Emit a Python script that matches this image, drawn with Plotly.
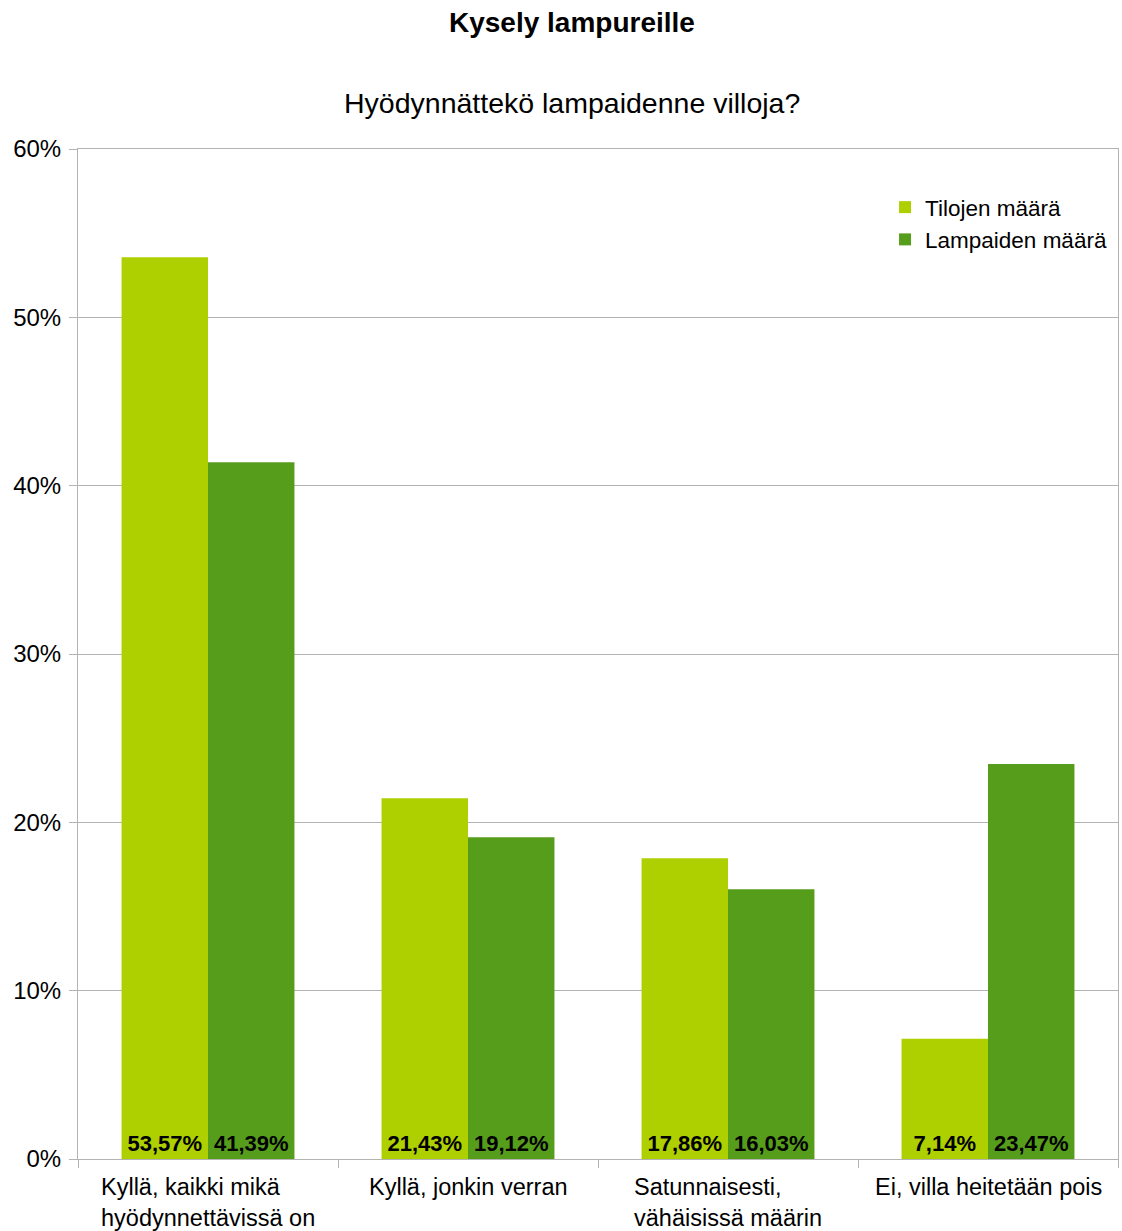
import plotly.graph_objects as go

categories = ["Kyllä, kaikki mikä<br>hyödynnettävissä on", "Kyllä, jonkin verran",
              "Satunnaisesti,<br>vähäisissä määrin", "Ei, villa heitetään pois"]
cat_keys = ["c1", "c2", "c3", "c4"]
tilojen = [0.5357, 0.2143, 0.1786, 0.0714]
lampaiden = [0.4139, 0.1912, 0.1603, 0.2347]
series_names = ["Tilojen määrä", "Lampaiden määrä"]
colors = ["#aecf00", "#579d1c"]
y_ticks = [0, 0.1, 0.2, 0.3, 0.4, 0.5, 0.6]

FONT = "Liberation Sans, Arial, sans-serif"

fig = go.Figure()
for name, vals, col in zip(series_names, [tilojen, lampaiden], colors):
    fig.add_trace(go.Bar(
        x=cat_keys, y=vals, name=name, marker_color=col, marker_line_width=0,
        texttemplate="<b>%{y:.2%}</b>", textposition="inside", insidetextanchor="start",
        textfont=dict(size=22, color="black", family=FONT), constraintext="none",
        textangle=0,
    ))

plot_h = 1231 - 149 - 72

fig.update_layout(
    width=1122, height=1231,
    margin=dict(l=78, r=4, t=149, b=72, autoexpand=False),
    paper_bgcolor="white", plot_bgcolor="white",
    separators=", ",
    barmode="group", bargap=0.335, bargroupgap=0,
    font=dict(family=FONT, size=24, color="black"),
    showlegend=True,
    legend=dict(x=0.776, y=(1159 - 186) / plot_h, xanchor="left", yanchor="top",
                font=dict(size=22.5, color="black", family=FONT),
                bgcolor="rgba(0,0,0,0)", itemwidth=30, tracegroupgap=0,
                traceorder="normal"),
)
fig.update_xaxes(
    type="category", categoryorder="array", categoryarray=cat_keys,
    showticklabels=False, ticks="outside", tickson="boundaries", ticklen=8,
    tickcolor="#b3b3b3", showline=True, linecolor="#b3b3b3", mirror=True,
    showgrid=False,
)
fig.update_yaxes(
    range=[0, 0.6], tickvals=y_ticks, tickformat=".0%", ticks="outside", ticklen=8,
    tickcolor="#b3b3b3", showline=True, linecolor="#b3b3b3", mirror=True,
    showgrid=True, gridcolor="#b3b3b3", gridwidth=1, zeroline=False,
    ticklabelstandoff=3,
    tickfont=dict(size=24, color="black", family=FONT),
)

for key, label in zip(cat_keys, categories):
    fig.add_annotation(x=key, xref="x", y=(1159 - 1172) / plot_h, yref="paper", text=label,
                       showarrow=False, align="left", xanchor="center", yanchor="top",
                       font=dict(size=23.5, color="black", family=FONT))

fig.add_annotation(text="<b>Kysely lampureille</b>", showarrow=False,
                   xref="paper", x=(572 - 78) / 1040, yref="paper", y=(1159 - 22) / plot_h,
                   xanchor="center", yanchor="middle",
                   font=dict(size=28, color="black", family=FONT))
fig.add_annotation(text="Hyödynnättekö lampaidenne villoja?", showarrow=False,
                   xref="paper", x=(572 - 78) / 1040, yref="paper", y=(1159 - 103) / plot_h,
                   xanchor="center", yanchor="middle",
                   font=dict(size=28.5, color="black", family=FONT))

fig.write_html("out.html")
